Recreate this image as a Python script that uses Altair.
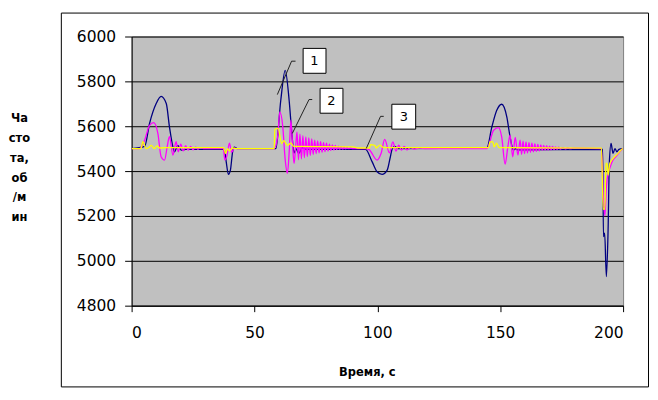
import altair as alt
import pandas as pd

# ---- data ----
t1 = [0, 5.3, 7.3, 10.0, 12.0, 14.1, 15.4, 16.8, 17.4, 18.8, 20.2, 22, 37.7, 38.4, 39.4, 40.2, 41.1, 41.8, 43,
      58.7, 60.7, 62.5, 64.1, 65.2, 66.1, 66.9, 68.0, 69.5, 71, 95.2, 97.9, 99.9, 101.9, 104.0, 105.3, 106.0,
      107.0, 108.5, 144.6, 146.6, 148.6, 150.6, 152.7, 154.0, 155.4, 156.1, 157, 191.7, 192.0, 192.5, 193.2,
      193.9, 194.4, 195.1, 195.9, 196.7, 197.5, 198.3, 200]
v1 = [5500, 5510, 5612, 5701, 5733, 5701, 5597, 5508, 5486, 5514, 5493, 5497, 5497, 5449, 5385, 5404, 5486, 5507, 5500,
      5500, 5716, 5849, 5716, 5569, 5480, 5500, 5478, 5505, 5497, 5497, 5441, 5397, 5385, 5404, 5464, 5497,
      5510, 5500, 5505, 5597, 5671, 5698, 5641, 5553, 5493, 5500, 5495, 5497, 5108, 5123, 4930,
      5138, 5434, 5523, 5479, 5500, 5486, 5497, 5500]

t2 = [0, 3.2, 5.3, 7.3, 9.0, 10.7, 12.0, 13.4, 14.5, 15.4, 16.8, 18.1, 19.0, 20, 21, 22, 23, 24, 25, 26, 27, 28, 29.5,
      37.3, 38.0, 38.8, 39.8, 40.7, 41.8, 43, 58.0,
      59.5, 60.3, 61.5, 62.5, 63.4, 64.2, 64.8, 65.5, 66.1, 66.7, 67.3, 67.9, 68.5, 69.1, 69.7, 70.3, 70.9, 71.5,
      72.1, 72.7, 73.3, 73.9, 74.5, 75.1, 75.7, 76.3, 76.9, 77.5, 78.1, 78.7, 79.3, 79.9, 80.5, 81.1, 81.7, 82.3,
      82.9, 83.5, 84.1, 84.7, 85.3, 85.9, 86.5, 87.1, 87.7, 88.3, 89, 90,
      95, 96.6, 99.9, 101.5, 103.0, 104.9, 106.3, 107.6, 108.7, 109.8, 110.9, 112.0, 113.5, 115, 117, 120,
      144.6, 147.3, 149.3, 150.6, 152.0, 153.1, 154.0, 155.1, 156.1, 157.2,
      158.1, 158.7, 159.3, 159.9, 160.5, 161.1, 161.7, 162.3, 162.9, 163.5, 164.1, 164.7, 165.3, 165.9, 166.5,
      167.1, 167.7, 168.3, 168.9, 169.5, 170.1, 170.7, 171.3, 171.9, 172.5, 173.1, 173.7, 174.5, 175.5, 176.5,
      177.5, 178.5, 180,
      191.2, 191.9, 192.6, 193.2, 193.9, 194.5, 195.5, 197.5, 199.5, 200]
v2 = [5500, 5500, 5538, 5604, 5616, 5567, 5464, 5449, 5510, 5553, 5471, 5531, 5486, 5520, 5490, 5513, 5493, 5510, 5495,
      5507, 5497, 5505, 5500,
      5500, 5449, 5470, 5524, 5484, 5502, 5500, 5500,
      5560, 5664, 5600, 5450, 5390, 5500, 5627, 5520, 5434, 5500, 5575, 5450, 5565, 5455, 5558, 5460, 5552, 5465,
      5548, 5470, 5543, 5474, 5538, 5478, 5535, 5481, 5531, 5484, 5527, 5487, 5524, 5490, 5520, 5492, 5517, 5494,
      5514, 5496, 5511, 5497, 5509, 5498, 5507, 5499, 5505, 5500, 5503, 5500,
      5500, 5496, 5449, 5478, 5541, 5481, 5530, 5489, 5516, 5493, 5510, 5495, 5505, 5498, 5502, 5500,
      5500, 5582, 5594, 5553, 5431, 5508, 5560, 5464, 5550, 5471,
      5538, 5475, 5533, 5478, 5530, 5481, 5527, 5484, 5524, 5486, 5521, 5488, 5519, 5490, 5517,
      5492, 5515, 5493, 5513, 5494, 5511, 5495, 5510, 5496, 5508, 5497, 5507, 5498, 5505, 5499,
      5503, 5500, 5502,
      5500, 5300, 5200, 5330, 5390, 5410, 5441, 5470, 5496, 5500]

t3 = [0, 3.8, 4.6, 5.9, 7.0, 8.0, 9.2, 10.3, 11.5, 14, 37.5, 38.2, 39.0, 39.8, 41, 43, 58.0, 58.3, 59.6, 61.1,
      62.0, 63.4, 64.8, 66, 90, 92, 96.8, 97.2, 99, 99.5, 101, 102.5, 145.3, 145.8, 147, 147.5, 148.5, 149.5,
      191.2, 191.9, 192.6, 193.0, 193.5, 193.9, 194.6, 195.9, 197.9, 199.5, 200]
v3 = [5500, 5500, 5531, 5500, 5505, 5515, 5500, 5512, 5503, 5505, 5505, 5478, 5500, 5490, 5503, 5500, 5500, 5585,
      5590, 5523, 5536, 5515, 5525, 5510, 5508, 5503, 5503, 5518, 5515, 5503, 5516, 5505, 5505, 5530, 5530,
      5508, 5525, 5505, 5502, 5230, 5230, 5434, 5434, 5382, 5434, 5456, 5478, 5497, 5500]

series_names = ["1", "2", "3"]
series_colors = ["#000080", "#FF00FF", "#FFFF00"]

x_ticks = [0, 50, 100, 150, 200]
y_ticks = [4800, 5000, 5200, 5400, 5600, 5800, 6000]

# callouts
callout_labels = ["1", "2", "3"]
callout_x = [74.4, 81.3, 110.8]
callout_y = [5891, 5713, 5642]
box_x1 = [69.8, 76.7, 105.9]
box_x2 = [79.1, 86.0, 115.6]
box_y1 = [5947, 5769, 5698]
box_y2 = [5836, 5658, 5587]
leader_x = [[66.7, 65.1, 59.3], [73.5, 72.2, 65.4], [102.6, 101.3, 95.5]]
leader_y = [[5890, 5890, 5741], [5719, 5719, 5568], [5644, 5644, 5501]]

# ---- tables ----
rows = []
for name, ts, vs in zip(series_names, [t1, t2, t3], [v1, v2, v3]):
    for i, (t, v) in enumerate(zip(ts, vs)):
        rows.append({"series": name, "t": t, "v": v, "i": i})
df = pd.DataFrame(rows)

lrows = []
for k, (xs, ys) in enumerate(zip(leader_x, leader_y)):
    for i, (a, b) in enumerate(zip(xs, ys)):
        lrows.append({"id": k, "t": a, "v": b, "i": i})
ldf = pd.DataFrame(lrows)

bdf = pd.DataFrame({"label": callout_labels, "cx": callout_x, "cy": callout_y,
                    "x1": box_x1, "x2": box_x2, "y1": box_y1, "y2": box_y2})

FONT = "DejaVu Sans"
xscale = alt.Scale(domain=[0, 200], nice=False, zero=False)
yscale = alt.Scale(domain=[4800, 6000], nice=False, zero=False)


def series_layer(name, color):
    return alt.Chart(df[df.series == name]).mark_line(
        color=color, strokeWidth=1.3, clip=True, interpolate="monotone").encode(
        x=alt.X("t:Q", scale=xscale,
                axis=alt.Axis(values=x_ticks, title="Время, с", grid=False, tickSize=6, labelPadding=14,
                              labelFontSize=15.5, labelFont=FONT, labelColor="#000", tickColor="#000",
                              domainColor="#000", titleFont=FONT, titleFontSize=11.5, titleFontWeight="bold",
                              titleColor="#000", titleX=236, titleY=67, titleBaseline="middle",
                              titleAnchor="middle", titleAlign="center")),
        y=alt.Y("v:Q", scale=yscale,
                axis=alt.Axis(values=y_ticks, format="d", title=["Ча", "сто", "та,", "об", "/м", "ин"],
                              grid=True, gridColor="#000", gridWidth=1, tickSize=7, labelPadding=9,
                              labelFontSize=15.5, labelFont=FONT, labelColor="#000", tickColor="#000",
                              domainColor="#000", titleFont=FONT, titleFontSize=11.5,
                              titleFontWeight="bold", titleColor="#000", titleAngle=0, titleAlign="center",
                              titleBaseline="top", titleX=-113, titleY=76, titleLineHeight=20)),
        order="i:Q",
    )


lines = [series_layer(n, c) for n, c in zip(series_names, series_colors)]

leaders = alt.Chart(ldf).mark_line(color="#222", strokeWidth=1).encode(
    x=alt.X("t:Q", scale=xscale), y=alt.Y("v:Q", scale=yscale), detail="id:N", order="i:Q")

boxes = alt.Chart(bdf).mark_rect(fill="white", stroke="#000", strokeWidth=1).encode(
    x=alt.X("x1:Q", scale=xscale), x2="x2:Q", y=alt.Y("y1:Q", scale=yscale), y2="y2:Q")

texts = alt.Chart(bdf).mark_text(font=FONT, fontSize=13, color="#000", align="center", baseline="middle").encode(
    x=alt.X("cx:Q", scale=xscale), y=alt.Y("cy:Q", scale=yscale), text="label:N")

frame = alt.Chart(pd.DataFrame({"a": [0]})).mark_rect(fill=None, stroke="#000", strokeWidth=1).encode(
    x=alt.value(-70.5), x2=alt.value(518.5), y=alt.value(-23.5), y2=alt.value(351.5))

chart = alt.layer(*lines, leaders, boxes, texts, frame).properties(
    width=493, height=270,
    padding={"left": 124, "top": 28, "right": 27, "bottom": 82},
    autosize=alt.AutoSizeParams(type="none"),
    background="white",
).configure_view(fill="#C0C0C0", stroke="#808080", strokeWidth=1)

chart.save("out.html", embed_options={"renderer": "svg", "actions": False})
